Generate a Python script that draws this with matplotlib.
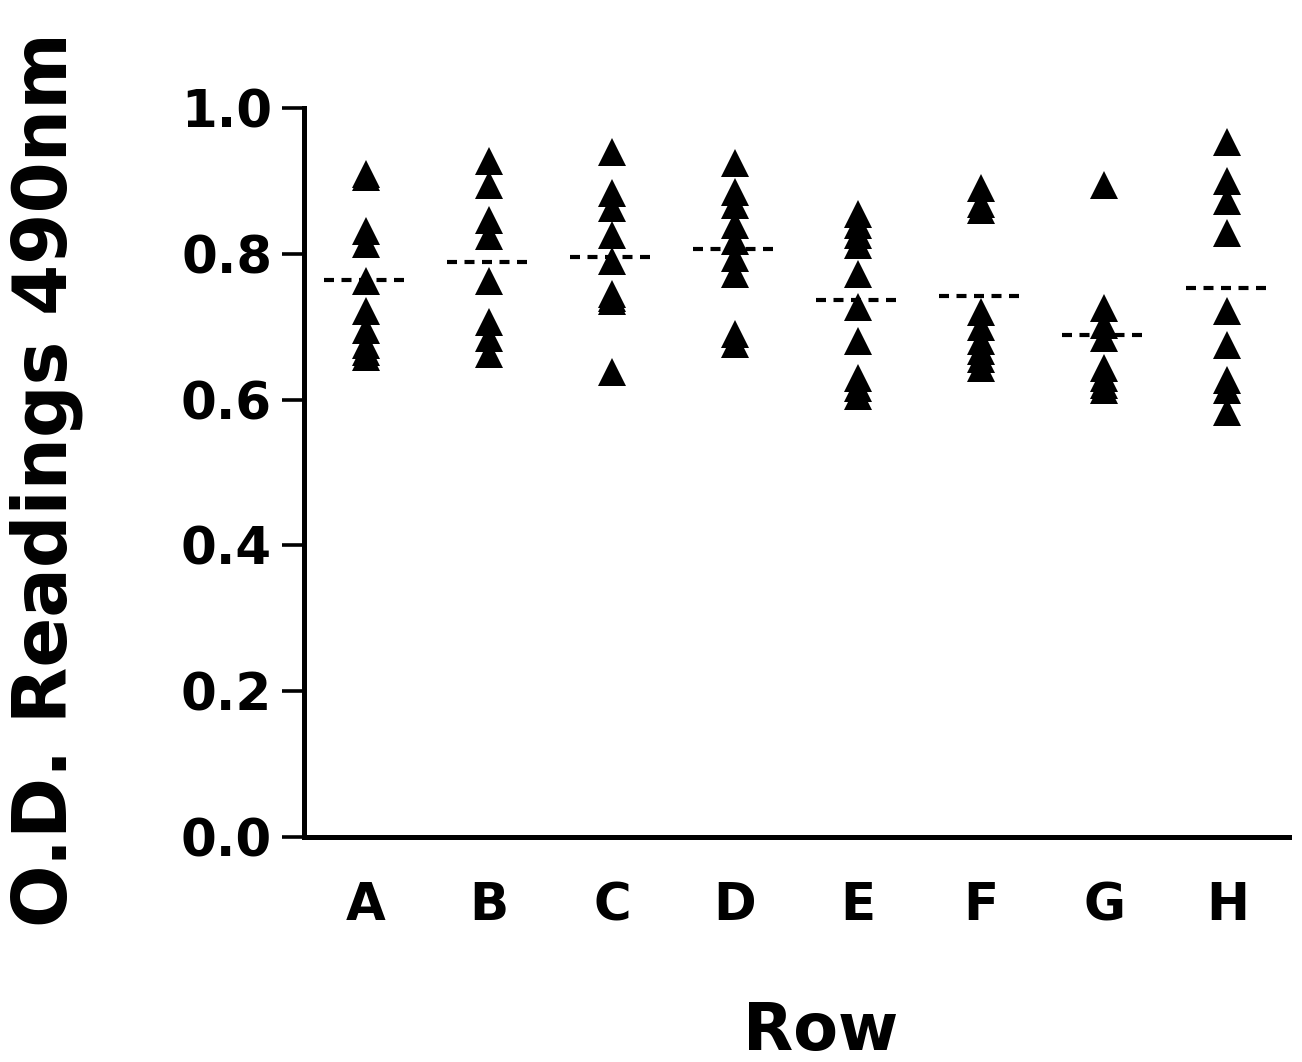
import matplotlib.pyplot as plt
import numpy as np

rows = ['A', 'B', 'C', 'D', 'E', 'F', 'G', 'H']

row_A = [0.910, 0.905, 0.831, 0.813, 0.762, 0.722, 0.695, 0.675, 0.665, 0.658]
row_B = [0.927, 0.894, 0.847, 0.824, 0.762, 0.706, 0.684, 0.662]
row_C = [0.939, 0.884, 0.863, 0.826, 0.790, 0.745, 0.740, 0.735, 0.638]
row_D = [0.924, 0.885, 0.867, 0.839, 0.817, 0.794, 0.772, 0.690, 0.676]
row_E = [0.854, 0.839, 0.826, 0.812, 0.772, 0.727, 0.681, 0.630, 0.616, 0.605]
row_F = [0.890, 0.868, 0.860, 0.720, 0.700, 0.681, 0.666, 0.655, 0.643]
row_G = [0.894, 0.725, 0.702, 0.684, 0.643, 0.629, 0.620, 0.613]
row_H = [0.953, 0.900, 0.873, 0.828, 0.721, 0.675, 0.627, 0.613, 0.583]

readings = [row_A, row_B, row_C, row_D, row_E, row_F, row_G, row_H]

fig = plt.figure(figsize=(13.02, 10.62), dpi=100)
ax = fig.add_axes([0.2335, 0.2119, 0.7565, 0.6864])

for i, vals in enumerate(readings):
    ax.plot([i] * len(vals), vals, linestyle='none', marker='^',
            markersize=19.5, color='black', markeredgewidth=0)
    # dashed line at the row mean
    m = np.mean(vals)
    ax.plot([i - 0.34, i + 0.34], [m, m], color='black', linewidth=3,
            linestyle=(0, (2.4, 1.8)), dash_capstyle='butt')

ax.set_xlim(-0.5, 7.5)
ax.set_ylim(0, 1.0)
ax.set_xticks(range(len(rows)))
ax.set_xticklabels(rows)
ax.set_yticks([0.0, 0.2, 0.4, 0.6, 0.8, 1.0])
ax.set_yticklabels(['0.0', '0.2', '0.4', '0.6', '0.8', '1.0'])

for s in ['top', 'right']:
    ax.spines[s].set_visible(False)
for s in ['left', 'bottom']:
    ax.spines[s].set_linewidth(3.6)

ax.tick_params(axis='y', length=16, width=2.6, pad=7, labelsize=37)
ax.tick_params(axis='x', length=0, pad=32, labelsize=37)
for lab in ax.get_xticklabels() + ax.get_yticklabels():
    lab.set_fontweight('bold')

ax.set_xlabel('Row', fontsize=47, fontweight='bold')
ax.xaxis.set_label_coords(0.525, -0.224)
ax.set_ylabel('O.D. Readings 490nm', fontsize=53, fontweight='bold')
ax.yaxis.set_label_coords(-0.224, 0.49)

plt.savefig('out.png', dpi=100)
